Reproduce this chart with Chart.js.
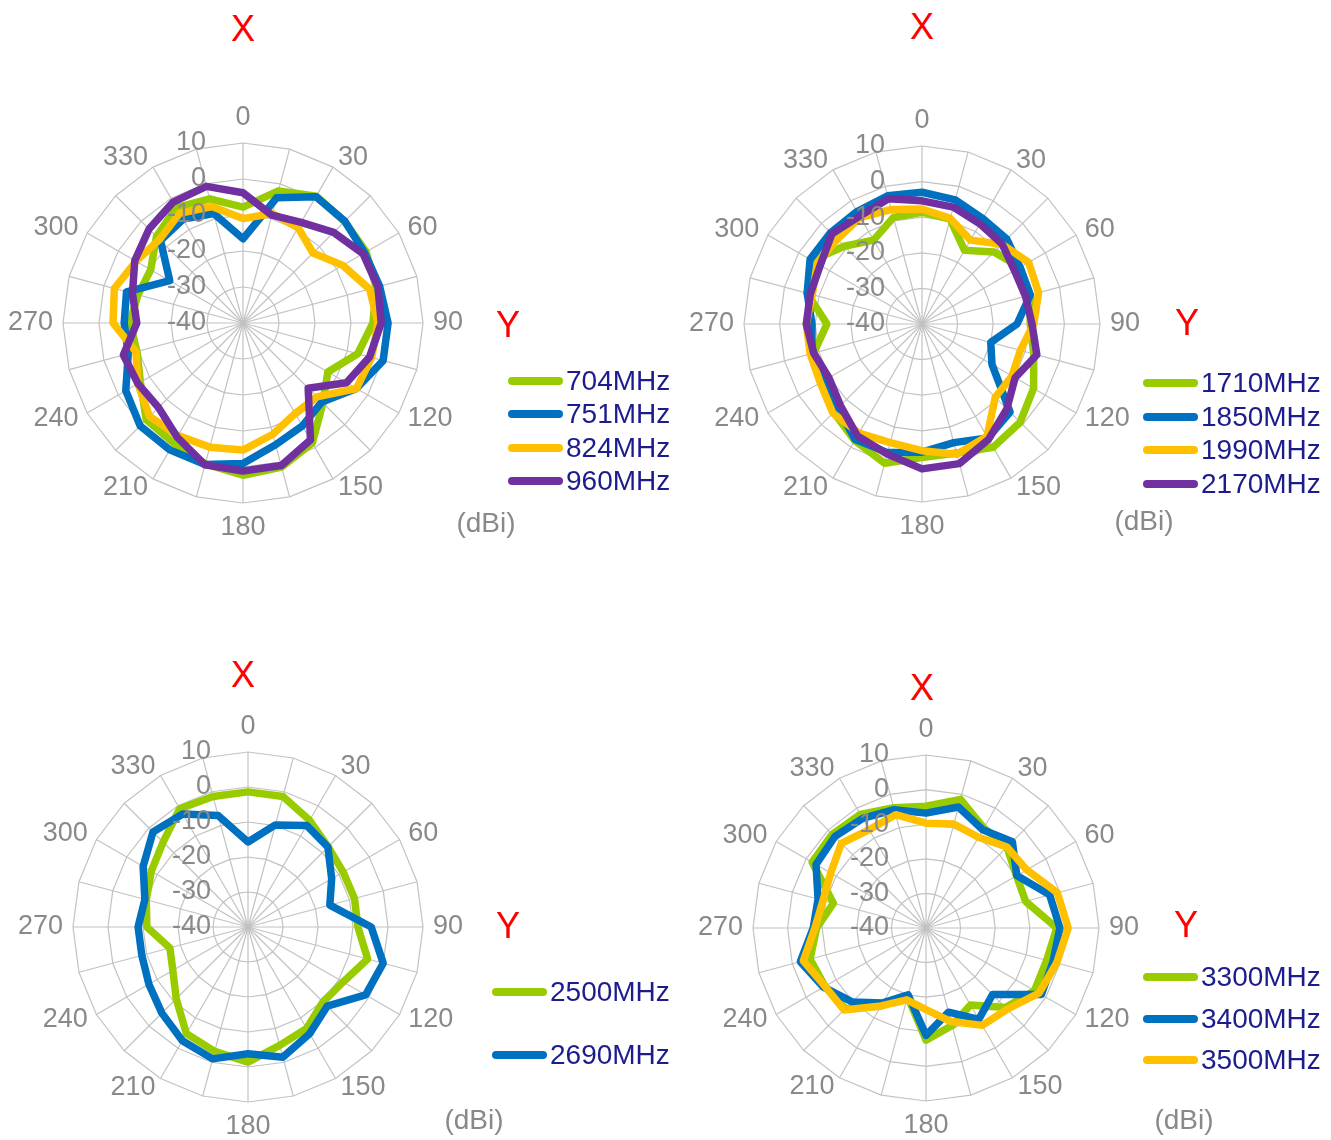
<!DOCTYPE html>
<html>
<head>
<meta charset="utf-8">
<title>Antenna patterns</title>
<script src="https://cdn.jsdelivr.net/npm/chart.js@4.4.1/dist/chart.umd.min.js"></script>
<style>
  body { margin: 0; background: #fff; }
  #page { position: relative; width: 1331px; height: 1140px; overflow: hidden; font-family: "Liberation Sans", Arial, sans-serif; }
  #page canvas { position: absolute; }
  .axis-name { position: absolute; color: #ff0000; font-size: 36px; line-height: 1; transform: translate(-50%, -50%); }
  .unit { position: absolute; color: #898989; font-size: 28px; line-height: 1; transform: translate(-50%, -50%); }
  .legend-row { position: absolute; display: flex; align-items: center; transform: translateY(-50%); color: #1c1c8c; font-size: 28px; line-height: 1; white-space: nowrap; }
  .legend-row .swatch { display: inline-block; width: 55px; height: 8px; border-radius: 4px; margin-right: 3px; }
</style>
</head>
<body>
<div id="page"></div>
<script>
const FONT = '"Liberation Sans", Arial, sans-serif';

// angle categories (degrees) and radial scale ticks (dBi)
const angles = [0, 15, 30, 45, 60, 75, 90, 105, 120, 135, 150, 165, 180, 195, 210, 225, 240, 255, 270, 285, 300, 315, 330, 345];
const radialTicks = [-40, -30, -20, -10, 0, 10];

const colors = ['#99cc00', '#0070c0', '#ffc000', '#7030a0'];

// low band
const names1 = ['704MHz', '751MHz', '824MHz', '960MHz'];
const gain704 = [-7.8, -2, 0.7, -0.1, -0.5, -1.7, -3.9, -7, -12.8, -8.6, -1.5, 1.4, 2.3, 0.5, -1.5, -2, -7.1, -9.5, -8.5, -9.8, -10.4, -6, -3, -4.3];
const gain751 = [-16.6, -4, 0.5, 0, -1, -0.7, 0.3, 0.3, -3.6, -9, -7, -5, -1, 0.7, 0.7, 0.4, -2.4, -7, -7, -6.5, -16.5, -7.6, -6.7, -8.5];
const gain824 = [-11, -8.5, -9.4, -12.5, -8, -3.6, -2.5, -3, -3.6, -11, -11, -8, -4.7, -4.3, -3.9, -3.3, -6.3, -9.2, -3.9, -3, -5.7, -7.2, -4.8, -6.5];
const gain960 = [-3.8, -9, -7.7, -4.4, -1.5, -1.2, -1.6, -3.6, -6.8, -14.4, -2.5, 1, 1.1, 0.8, -3.4, -6.8, -6.3, -5.6, -10.5, -8.2, -5.3, -3.1, -1.2, -0.7];

// mid band
const names2 = ['1710MHz', '1850MHz', '1990MHz', '2170MHz'];
const gain1710 = [-8.6, -9.5, -16.1, -11.4, -8.2, -8.5, -9.6, -7.5, -3.8, -1, 0, -2.5, -2.5, 0.5, -2.2, -4.9, -7.5, -8.5, -13.3, -6.6, -4.3, -9.1, -12.8, -9];
const gain1850 = [-3, -3.9, -5.8, -6.3, -8.2, -8.5, -13.3, -20, -17.3, -5, -3, -5.5, -4, -2.6, -2.5, -6.6, -8.4, -8, -9.1, -6.6, -3.7, -3.7, -3.5, -2.7];
const gain1990 = [-7.7, -9.3, -12.8, -8.3, -5.4, -6.1, -8.6, -11.4, -10.8, -10.9, -3.5, -2.1, -4.4, -5.5, -4.6, -4.6, -7, -7.5, -7.5, -8.1, -6, -6.3, -5.4, -6.7];
const gain2170 = [-5.4, -6, -7.5, -8.2, -10, -9.9, -9.1, -6.6, -9.8, -6.3, -2.6, 0.6, 0.7, -2.2, -3.7, -7.6, -9.8, -8.5, -7.5, -7.5, -7, -4.2, -5, -3.6];

// 2.5-2.7 GHz
const names3 = ['2500MHz', '2690MHz'];
const gain2500 = [-1.4, -1.4, -4.8, -7.6, -8.6, -8.5, -8.6, -4.6, -8.6, -9.7, -6.5, -5, -1.4, -3.2, -4.8, -11, -15.2, -16.9, -11.1, -9.9, -8.1, -5.7, -1, -1.4];
const gain2690 = [-15.7, -9.8, -6.5, -7.7, -12.4, -15.8, -4.8, 0, -1.2, -8, -4.8, -1.5, -3.8, -1, -2.5, -5.2, -7.3, -8.6, -8.6, -9.5, -5.4, -1.6, -2.7, -7];

// 3.3-3.5 GHz
const names4 = ['3300MHz', '3400MHz', '3500MHz'];
const gain3300 = [-4.8, -1.5, -6.6, -6.9, -9.8, -10.2, -2.2, -3.9, -3.8, -7.5, -14.3, -10.8, -7.6, -19.5, -14, -7, -6.3, -5.3, -8.4, -12.3, -2, -1.7, -2.1, -4];
const gain3400 = [-6.8, -3.8, -7.2, -4.7, -9.7, -3, -1.3, -2, -1.5, -12.8, -9.5, -14.8, -9, -20, -15, -9.8, -5.8, -2.4, -7.4, -7.7, -3.3, -2.7, -3.4, -4.6];
const gain3500 = [-9.7, -8.9, -9.7, -6.9, -6.4, -0.7, 1.1, -0.9, -2.3, -6.8, -7.5, -12, -16.4, -18.5, -14, -6.5, -6.3, -3.3, -7.9, -9.2, -8.2, -5.4, -7.2, -6.1];

// where each plot sits on the page
const panels = [
    { names: names1, values: [gain704, gain751, gain824, gain960], cx: 243, cy: 323, radius: 180,
      xPos: [243, 29], yPos: [508, 325], legend: { x: 508, y: 381, step: 33.3 }, unitPos: [486, 523] },
    { names: names2, values: [gain1710, gain1850, gain1990, gain2170], cx: 922, cy: 324, radius: 178,
      xPos: [922, 27], yPos: [1187, 323], legend: { x: 1143, y: 383, step: 33.5 }, unitPos: [1144, 521] },
    { names: names3, values: [gain2500, gain2690], cx: 248, cy: 927, radius: 175,
      xPos: [243, 675], yPos: [508, 926], legend: { x: 492, y: 992, step: 63 }, unitPos: [474, 1120] },
    { names: names4, values: [gain3300, gain3400, gain3500], cx: 926, cy: 928, radius: 173,
      xPos: [922, 688], yPos: [1186, 925], legend: { x: 1143, y: 977, step: 41.5 }, unitPos: [1184, 1120] }
];

Chart.defaults.font.family = FONT;

// dBi labels sit left of the 0 degree spoke, on top of the traces
const tickLabelPlugin = {
    id: 'tickLabelsLeft',
    afterDatasetsDraw(chart) {
        const scale = chart.scales.r;
        const ctx = chart.ctx;
        ctx.save();
        ctx.font = '27px ' + FONT;
        ctx.fillStyle = '#898989';
        ctx.textAlign = 'right';
        ctx.textBaseline = 'middle';
        radialTicks.forEach(value => {
            const dist = scale.getDistanceFromCenterForValue(value);
            ctx.fillText(String(value), scale.xCenter - 37, scale.yCenter - dist);
        });
        ctx.restore();
    }
};

const page = document.getElementById('page');

function addText(cls, text, x, y) {
    const el = document.createElement('div');
    el.className = cls;
    el.textContent = text;
    el.style.left = x + 'px';
    el.style.top = y + 'px';
    page.appendChild(el);
}

function addLegend(panel) {
    panel.names.forEach((name, i) => {
        const row = document.createElement('div');
        row.className = 'legend-row';
        row.style.left = panel.legend.x + 'px';
        row.style.top = (panel.legend.y + i * panel.legend.step) + 'px';
        const swatch = document.createElement('span');
        swatch.className = 'swatch';
        swatch.style.background = colors[i];
        row.appendChild(swatch);
        row.appendChild(document.createTextNode(name));
        page.appendChild(row);
    });
}

function addRadar(panel) {
    // canvas sized so that the scale ends up with the wanted radius and centre
    const h = panel.radius * 2 + 80;
    const w = h + 120;
    const canvas = document.createElement('canvas');
    canvas.width = w;
    canvas.height = h;
    canvas.style.left = (panel.cx - w / 2) + 'px';
    canvas.style.top = (panel.cy - h / 2) + 'px';
    page.appendChild(canvas);

    const count = panel.values.length;
    new Chart(canvas, {
        type: 'radar',
        data: {
            labels: angles,
            datasets: panel.values.map((vals, i) => ({
                label: panel.names[i],
                data: vals,
                borderColor: colors[i],
                backgroundColor: colors[i],
                borderWidth: 7.5,
                borderJoinStyle: 'round',
                pointRadius: 0,
                fill: false,
                tension: 0,
                order: count - i
            }))
        },
        options: {
            responsive: false,
            animation: false,
            plugins: {
                legend: { display: false },
                tooltip: { enabled: false }
            },
            scales: {
                r: {
                    min: -40,
                    max: 10,
                    ticks: { display: false, stepSize: 10 },
                    grid: { color: '#c2c2c2', lineWidth: 1.2 },
                    angleLines: { color: '#c2c2c2', lineWidth: 1.2 },
                    pointLabels: {
                        color: '#898989',
                        padding: 10,
                        callback: (label) => (label % 30 === 0 ? String(label) : ''),
                        // side labels are centred on their spoke height, like the original
                        font: (ctx) => ({ family: FONT, size: 27, lineHeight: ctx.index % 12 === 0 ? '30px' : '1px' })
                    }
                }
            }
        },
        plugins: [tickLabelPlugin]
    });

    addText('axis-name', 'X', panel.xPos[0], panel.xPos[1]);
    addText('axis-name', 'Y', panel.yPos[0], panel.yPos[1]);
    addText('unit', '(dBi)', panel.unitPos[0], panel.unitPos[1]);
    addLegend(panel);
}

panels.forEach(addRadar);
</script>
</body>
</html>
